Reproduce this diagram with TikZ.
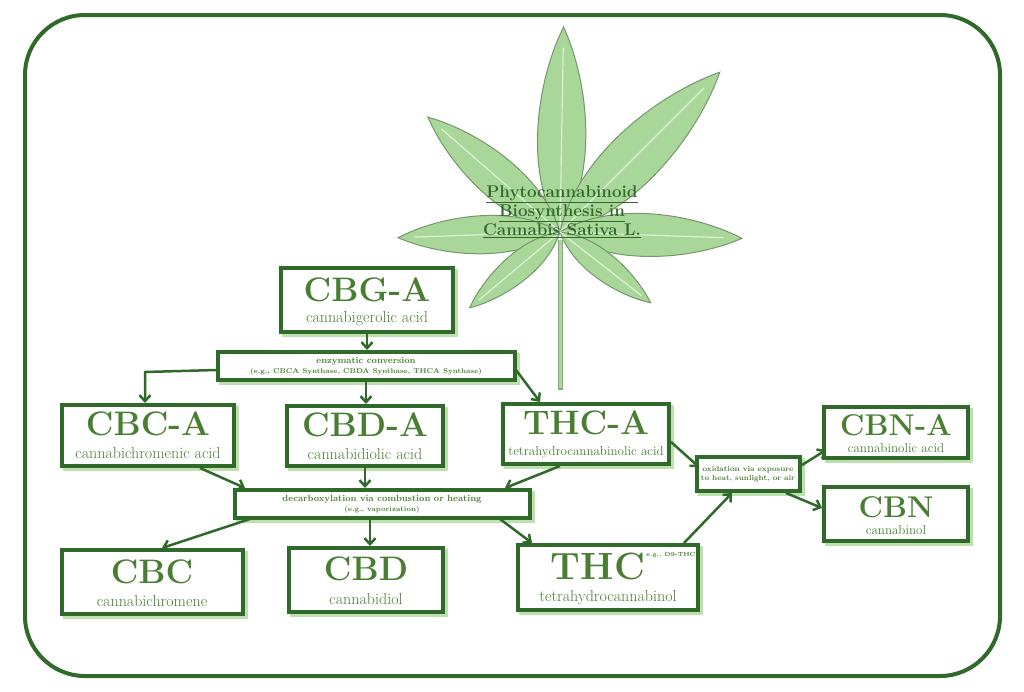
\documentclass[tikz,border=0pt]{standalone}
\usetikzlibrary{arrows.meta}
\definecolor{dg}{HTML}{2F6A2A}
\definecolor{tg}{HTML}{4A7F33}
\definecolor{lg}{HTML}{BEE0AE}
\definecolor{lf}{HTML}{A9D79A}
\begin{document}
\begin{tikzpicture}[x=1pt,y=-1pt,
 box/.style={draw=dg,line width=4pt,fill=white,
   preaction={draw=lg,fill=lg,line width=4pt,transform canvas={xshift=3pt,yshift=-3pt}}},
 big/.style={font=\fontsize{34}{35}\selectfont\bfseries,text=tg},
 sub/.style={font=\fontsize{16}{18}\selectfont,text=tg},
 tiny/.style={font=\fontsize{9}{10}\selectfont\bfseries,text=tg,align=center},
 arr/.style={draw=dg,line width=2.5pt,-{Straight Barb[length=6pt,width=11pt]}}]
\useasboundingbox (0,0) rectangle (1024,691);
\fill[white] (0,0) rectangle (1024,691);
\draw[dg,line width=4pt,rounded corners=60pt] (25,15) rectangle (1000,676);
% leaf
\draw[lf!80!black,line width=5pt] (560,240) -- (560,390);
\draw[lf,line width=3pt] (560,240) -- (560,388);
\foreach \a/\L in {89/205,139/175,45/226,-178/162,-2/182,-140/118,-38/115}{
 \begin{scope}[shift={(560,232)},rotate=\a]
  \draw[fill=lf,draw=lf!70!black,line width=1pt] (0,0) .. controls (0.3*\L,0.19*\L) and (0.75*\L,0.12*\L) .. (\L,0) .. controls (0.75*\L,-0.12*\L) and (0.3*\L,-0.19*\L) .. (0,0);
  \draw[white!60!lf,line width=1.2pt] (0,0) -- (0.9*\L,0);
 \end{scope}}
\node[font=\fontsize{17}{19}\selectfont\bfseries,text=dg,align=center] (title) at (562,212)
 {\underline{Phytocannabinoid}\\\underline{Biosynthesis in}\\\underline{Cannabis Sativa L.}};
% boxes
\path[box] (281,268) rectangle (453,332);
\node[big] (cbga) at (367,290) {CBG-A}; \node[sub] at (367,319) {cannabigerolic acid};
\path[box] (218,352) rectangle (515,380);
\node[tiny] (enz) at (366,366) {enzymatic conversion\\{\fontsize{7}{8}\selectfont(e.g., CBCA Synthase, CBDA Synthase, THCA Synthase)}};
\path[box] (62,405) rectangle (234,466);
\node[big] (cbca) at (148,424) {CBC-A}; \node[sub] at (148,453) {cannabichromenic acid};
\path[box] (287,406) rectangle (443,466);
\node[big] (cbda) at (365,425) {CBD-A}; \node[sub] at (365,454) {cannabidiolic acid};
\path[box] (503,404) rectangle (669,464);
\node[big] (thca) at (586,423) {THC-A}; \node[sub,font=\fontsize{13}{15}\selectfont] at (586,452) {tetrahydrocannabinolic acid};
\path[box] (235,490) rectangle (530,518);
\node[tiny] (dec) at (382,504) {decarboxylation via combustion or heating\\{\fontsize{7}{8}\selectfont(e.g., vaporization)}};
\path[box] (62,550) rectangle (243,614);
\node[big] (cbc) at (152,572) {CBC}; \node[sub] at (152,601) {cannabichromene};
\path[box] (289,548) rectangle (443,612);
\node[big] (cbd) at (366,569) {CBD}; \node[sub] at (366,599) {cannabidiol};
\path[box] (518,545) rectangle (698,610);
\node[big,font=\fontsize{38}{40}\selectfont\bfseries] (thc) at (598,566) {THC}; \node[sub] at (608,598) {tetrahydrocannabinol};
\node[tiny,font=\fontsize{6}{7}\selectfont\bfseries] (eg) at (671,555) {e.g., D9-THC};
\path[box] (697,457) rectangle (800,491);
\node[tiny,font=\fontsize{7.5}{9}\selectfont\bfseries] (ox) at (748,474) {oxidation via exposure\\to heat, sunlight, or air};
\path[box] (824,407) rectangle (968,458);
\node[big,font=\fontsize{30}{32}\selectfont\bfseries] (cbna) at (896,425) {CBN-A}; \node[sub,font=\fontsize{13}{15}\selectfont] at (896,448) {cannabinolic acid};
\path[box] (824,487) rectangle (968,541);
\node[big,font=\fontsize{30}{32}\selectfont\bfseries] (cbn) at (896,507) {CBN}; \node[sub,font=\fontsize{13}{15}\selectfont] at (896,530) {cannabinol};
% anchor coordinates
\coordinate (a1) at (367,334); \coordinate (a2) at (367,350);
\coordinate (b1) at (216,370); \coordinate (b2) at (145,403);
\coordinate (c1) at (366,382); \coordinate (c2) at (366,404);
\coordinate (d1) at (516,370); \coordinate (d2) at (540,402);
\coordinate (e1) at (200,468); \coordinate (e2) at (245,488);
\coordinate (f1) at (365,468); \coordinate (f2) at (365,488);
\coordinate (g1) at (560,466); \coordinate (g2) at (505,488);
\coordinate (h1) at (250,519); \coordinate (h2) at (162,548);
\coordinate (i1) at (370,520); \coordinate (i2) at (370,546);
\coordinate (j1) at (500,519); \coordinate (j2) at (532,543);
\coordinate (k1) at (671,442); \coordinate (k2) at (699,467);
\coordinate (l1) at (684,543); \coordinate (l2) at (732,493);
\coordinate (m1) at (802,465); \coordinate (m2) at (826,450);
\coordinate (n1) at (786,493); \coordinate (n2) at (822,508);
\draw[arr] (a1) -- (a2);
\draw[arr] (b1) -- (145,372) -- (b2);
\foreach \s/\t in {c1/c2,d1/d2,e1/e2,f1/f2,g1/g2,h1/h2,i1/i2,j1/j2,k1/k2,l1/l2,m1/m2,n1/n2}
 \draw[arr] (\s) -- (\t);
\end{tikzpicture}
\end{document}
